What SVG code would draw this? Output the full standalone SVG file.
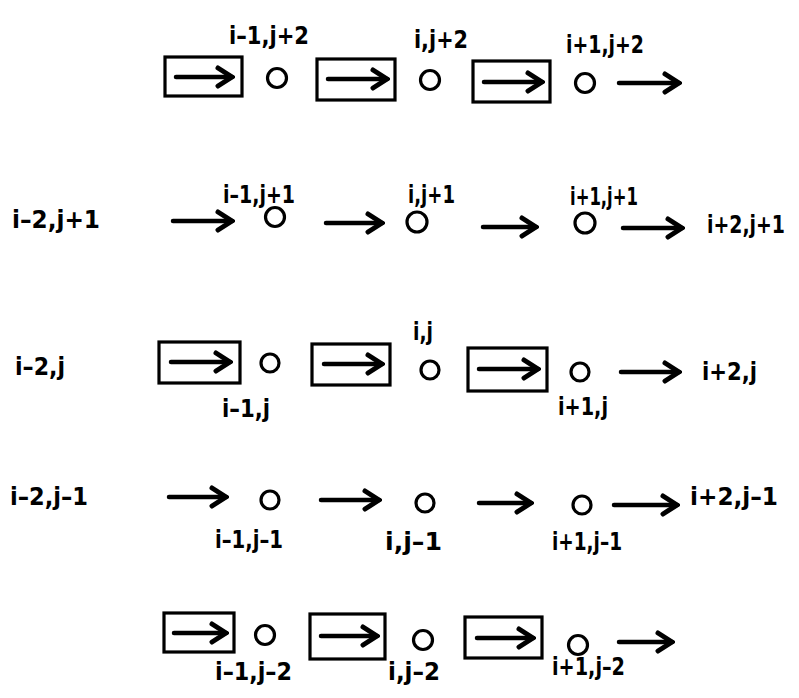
<svg xmlns="http://www.w3.org/2000/svg" width="799" height="698" viewBox="0 0 799 698">
  <style>
    .lbl { font-family: "DejaVu Sans Condensed", "DejaVu Sans", "Liberation Sans", sans-serif; font-stretch: condensed; font-weight: bold; font-size: 25px; fill: #000; }
    .pt { fill: none; stroke: #000; stroke-width: 3.2; }
    .box { fill: none; stroke: #000; stroke-width: 3.2; }
    .arr { stroke: #000; stroke-width: 4.5; stroke-linecap: round; marker-end: url(#head); }
  </style>
  <defs>
    <!-- open chevron arrowhead -->
    <marker id="head" markerUnits="userSpaceOnUse" viewBox="0 0 20 24" refX="17" refY="12" markerWidth="20" markerHeight="24" orient="auto">
      <path d="M3,3 L17,12 L3,21" fill="none" stroke="#000" stroke-width="5" stroke-linecap="round" stroke-linejoin="miter"/>
    </marker>
  </defs>
  <rect width="799" height="698" fill="#fff"/>

  <!-- row j+2 -->
  <g id="box-r1-1"><rect class="box" x="165" y="57" width="77" height="39"/><line class="arr" x1="176" y1="77" x2="232" y2="77"/></g>
  <g id="n-im1-jp2"><circle class="pt" cx="277" cy="78" r="9.5"/><text class="lbl" x="229" y="44" font-size="23" textLength="80" lengthAdjust="spacingAndGlyphs">i–1,j+2</text></g>
  <g id="box-r1-2"><rect class="box" x="317" y="59" width="78" height="41"/><line class="arr" x1="328" y1="79" x2="387" y2="79"/></g>
  <g id="n-i-jp2"><circle class="pt" cx="430" cy="80" r="9.5"/><text class="lbl" x="414" y="48" font-size="23" textLength="54" lengthAdjust="spacingAndGlyphs">i,j+2</text></g>
  <g id="box-r1-3"><rect class="box" x="473" y="61" width="77" height="41"/><line class="arr" x1="484" y1="82" x2="542" y2="82"/></g>
  <g id="n-ip1-jp2"><circle class="pt" cx="585" cy="83" r="9.5"/><text class="lbl" x="566" y="53" font-size="23" textLength="78" lengthAdjust="spacingAndGlyphs">i+1,j+2</text></g>

  <!-- row j+1 -->
  <g id="n-im2-jp1"><text class="lbl" x="12" y="228" font-size="26" textLength="88" lengthAdjust="spacingAndGlyphs">i–2,j+1</text></g>
  <g id="n-im1-jp1"><circle class="pt" cx="275" cy="217" r="9.5"/><text class="lbl" x="223" y="203" font-size="24" textLength="72" lengthAdjust="spacingAndGlyphs">i–1,j+1</text></g>
  <g id="n-i-jp1"><circle class="pt" cx="417" cy="222" r="10"/><text class="lbl" x="408" y="203" font-size="24" textLength="47" lengthAdjust="spacingAndGlyphs">i,j+1</text></g>
  <g id="n-ip1-jp1"><circle class="pt" cx="585" cy="223" r="10"/><text class="lbl" x="570" y="205" font-size="24" textLength="68" lengthAdjust="spacingAndGlyphs">i+1,j+1</text></g>
  <g id="n-ip2-jp1"><text class="lbl" x="707" y="233" textLength="78" lengthAdjust="spacingAndGlyphs">i+2,j+1</text></g>

  <!-- row j -->
  <g id="n-im2-j"><text class="lbl" x="15" y="375" textLength="50" lengthAdjust="spacingAndGlyphs">i–2,j</text></g>
  <g id="box-r3-1"><rect class="box" x="159" y="342" width="81" height="41"/><line class="arr" x1="171" y1="362" x2="230" y2="362"/></g>
  <g id="n-im1-j"><circle class="pt" cx="270" cy="363" r="9"/><text class="lbl" x="222" y="417" font-size="24" textLength="48" lengthAdjust="spacingAndGlyphs">i–1,j</text></g>
  <g id="box-r3-2"><rect class="box" x="312" y="344" width="78" height="41"/><line class="arr" x1="324" y1="364" x2="382" y2="364"/></g>
  <g id="n-i-j"><circle class="pt" cx="430" cy="370" r="9"/><text class="lbl" x="413" y="340" font-size="23" textLength="20" lengthAdjust="spacingAndGlyphs">i,j</text></g>
  <g id="box-r3-3"><rect class="box" x="468" y="348" width="79" height="43"/><line class="arr" x1="479" y1="369" x2="538" y2="369"/></g>
  <g id="n-ip1-j"><circle class="pt" cx="580" cy="372" r="9"/><text class="lbl" x="558" y="415" font-size="23" textLength="50" lengthAdjust="spacingAndGlyphs">i+1,j</text></g>
  <g id="n-ip2-j"><text class="lbl" x="702" y="380" font-size="24" textLength="55" lengthAdjust="spacingAndGlyphs">i+2,j</text></g>

  <!-- row j-1 -->
  <g id="n-im2-jm1"><text class="lbl" x="10" y="505" textLength="78" lengthAdjust="spacingAndGlyphs">i–2,j–1</text></g>
  <g id="n-im1-jm1"><circle class="pt" cx="270" cy="500" r="9"/><text class="lbl" x="215" y="548" font-size="24" textLength="68" lengthAdjust="spacingAndGlyphs">i–1,j–1</text></g>
  <g id="n-i-jm1"><circle class="pt" cx="425" cy="503" r="9"/><text class="lbl" x="385" y="550" font-size="24" textLength="57" lengthAdjust="spacingAndGlyphs">i,j–1</text></g>
  <g id="n-ip1-jm1"><circle class="pt" cx="582" cy="505" r="9"/><text class="lbl" x="552" y="550" font-size="23" textLength="70" lengthAdjust="spacingAndGlyphs">i+1,j–1</text></g>
  <g id="n-ip2-jm1"><text class="lbl" x="690" y="505" font-size="23" textLength="88" lengthAdjust="spacingAndGlyphs">i+2,j–1</text></g>

  <!-- row j-2 -->
  <g id="box-r5-1"><rect class="box" x="164" y="613" width="70" height="39"/><line class="arr" x1="174" y1="633" x2="226" y2="633"/></g>
  <g id="n-im1-jm2"><circle class="pt" cx="265" cy="635" r="9.5"/><text class="lbl" x="215" y="680" font-size="26" textLength="77" lengthAdjust="spacingAndGlyphs">i–1,j–2</text></g>
  <g id="box-r5-2"><rect class="box" x="310" y="614" width="75" height="45"/><line class="arr" x1="321" y1="636" x2="377" y2="636"/></g>
  <g id="n-i-jm2"><circle class="pt" cx="423" cy="640" r="9.5"/><text class="lbl" x="388" y="680" font-size="26" textLength="52" lengthAdjust="spacingAndGlyphs">i,j–2</text></g>
  <g id="box-r5-3"><rect class="box" x="465" y="617" width="77" height="41"/><line class="arr" x1="477" y1="638" x2="533" y2="638"/></g>
  <g id="n-ip1-jm2"><circle class="pt" cx="578" cy="645" r="9.5"/><text class="lbl" x="552" y="675" textLength="73" lengthAdjust="spacingAndGlyphs">i+1,j–2</text></g>

  <!-- free connectors between grid points -->
  <g id="connectors">
    <line class="arr" x1="619" y1="83" x2="679" y2="83"/>
    <line class="arr" x1="173" y1="221" x2="232" y2="221"/>
    <line class="arr" x1="326" y1="223" x2="382" y2="223"/>
    <line class="arr" x1="483" y1="227" x2="536" y2="227"/>
    <line class="arr" x1="623" y1="228" x2="682" y2="228"/>
    <line class="arr" x1="621" y1="372" x2="679" y2="372"/>
    <line class="arr" x1="169" y1="497" x2="226" y2="497"/>
    <line class="arr" x1="321" y1="500" x2="379" y2="500"/>
    <line class="arr" x1="479" y1="503" x2="531" y2="503"/>
    <line class="arr" x1="614" y1="505" x2="677" y2="505"/>
    <line class="arr" x1="619" y1="642" x2="672" y2="642"/>
  </g>
</svg>
